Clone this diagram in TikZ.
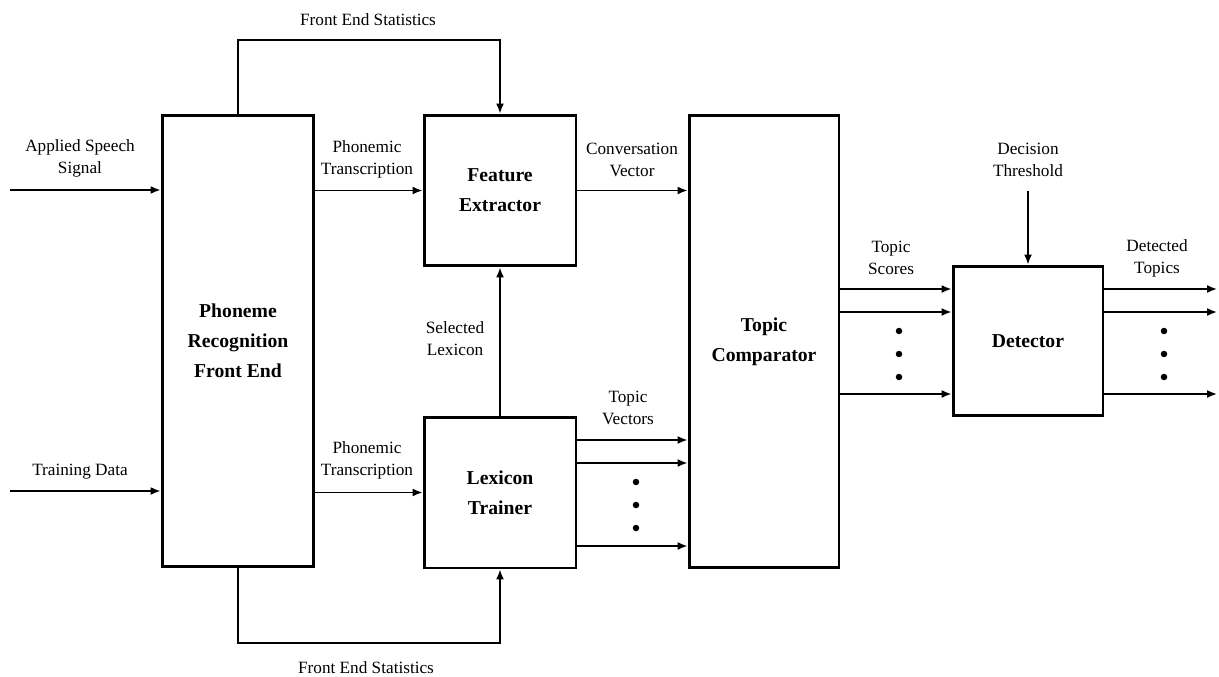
\documentclass[tikz,border=0pt]{standalone}
\usepackage{fontspec}
\setmainfont{Liberation Serif}
\usetikzlibrary{arrows.meta}
\begin{document}
\begin{tikzpicture}[x=0.02cm,y=-0.02cm,
  block/.style={draw,line width=1.7pt,align=center,inner sep=0pt,
    font=\bfseries\fontsize{11.2}{17}\selectfont},
  lbl/.style={align=center,inner sep=0pt,font=\fontsize{9.8}{12.5}\selectfont},
  arr/.style={line width=0.9pt,-{Latex[length=0.2cm,width=0.16cm]}},
  dot/.style={fill=black}]
\useasboundingbox (0,0) rectangle (1219,676);

% processing blocks
\node[block,minimum width=3.04cm,minimum height=9.04cm] (pr) at (238,341) {Phoneme\\Recognition\\Front End};
\node[block,minimum width=3.04cm,minimum height=3.02cm] (fe) at (500,190.5) {Feature\\Extractor};
\node[block,minimum width=3.04cm,minimum height=3.02cm] (lt) at (500,492.5) {Lexicon\\Trainer};
\node[block,minimum width=3.0cm,minimum height=9.06cm] (tc) at (764,341.5) {Topic\\Comparator};
\node[block,minimum width=3.0cm,minimum height=3.0cm] (dt) at (1028,341) {Detector};

% free ends of the input and output lines
\coordinate (sp) at (10,190);
\coordinate (td) at (10,491);
\coordinate (fst) at (0,40);
\coordinate (fsb) at (0,643);
\coordinate (thr) at (1028,191);
\coordinate (outx) at (1217,0);

% inputs to the front end
\draw[arr] (sp) -- (sp -| pr.west);
\draw[arr] (td) -- (td -| pr.west);

% front end statistics
\draw[arr] (pr.north) -- (pr.north |- fst) -| (fe.north);
\draw[arr] (pr.south) -- (pr.south |- fsb) -| (lt.south);

% phonemic transcriptions
\draw[arr] (pr.east |- fe.west) -- (fe.west);
\draw[arr] (pr.east |- lt.west) -- (lt.west);

% selected lexicon and conversation vector
\draw[arr] (lt.north) -- (fe.south);
\draw[arr] (fe.east) -- (fe.east -| tc.west);

% topic vectors
\foreach \yy in {440,463,546}
  \draw[arr] (lt.east |- 0,\yy) -- (tc.west |- 0,\yy);
\foreach \yy in {482,505,528}
  \fill[dot] (636,\yy) circle[radius=0.065cm];

% topic scores
\foreach \yy in {289,312,394}
  \draw[arr] (tc.east |- 0,\yy) -- (dt.west |- 0,\yy);
\foreach \yy in {331,354,377}
  \fill[dot] (899,\yy) circle[radius=0.065cm];

% decision threshold
\draw[arr] (thr) -- (dt.north);

% detected topics
\foreach \yy in {289,312,394}
  \draw[arr] (dt.east |- 0,\yy) -- (outx |- 0,\yy);
\foreach \yy in {331,354,377}
  \fill[dot] (1164,\yy) circle[radius=0.065cm];

% labels
\node[lbl] (l1) at (368,20) {Front End Statistics};
\node[lbl] (l2) at (366,668) {Front End Statistics};
\node[lbl] (l3) at (80,158) {Applied Speech\\Signal};
\node[lbl] (l4) at (80,472) {Training Data};
\node[lbl] (l5) at (367,159) {Phonemic\\Transcription};
\node[lbl] (l6) at (367,460) {Phonemic\\Transcription};
\node[lbl] (l7) at (632,160) {Conversation\\Vector};
\node[lbl] (l8) at (455,339) {Selected\\Lexicon};
\node[lbl] (l9) at (628,408) {Topic\\Vectors};
\node[lbl] (l10) at (1028,160) {Decision\\Threshold};
\node[lbl] (l11) at (891,258) {Topic\\Scores};
\node[lbl] (l12) at (1157,258) {Detected\\Topics};
\end{tikzpicture}
\end{document}
